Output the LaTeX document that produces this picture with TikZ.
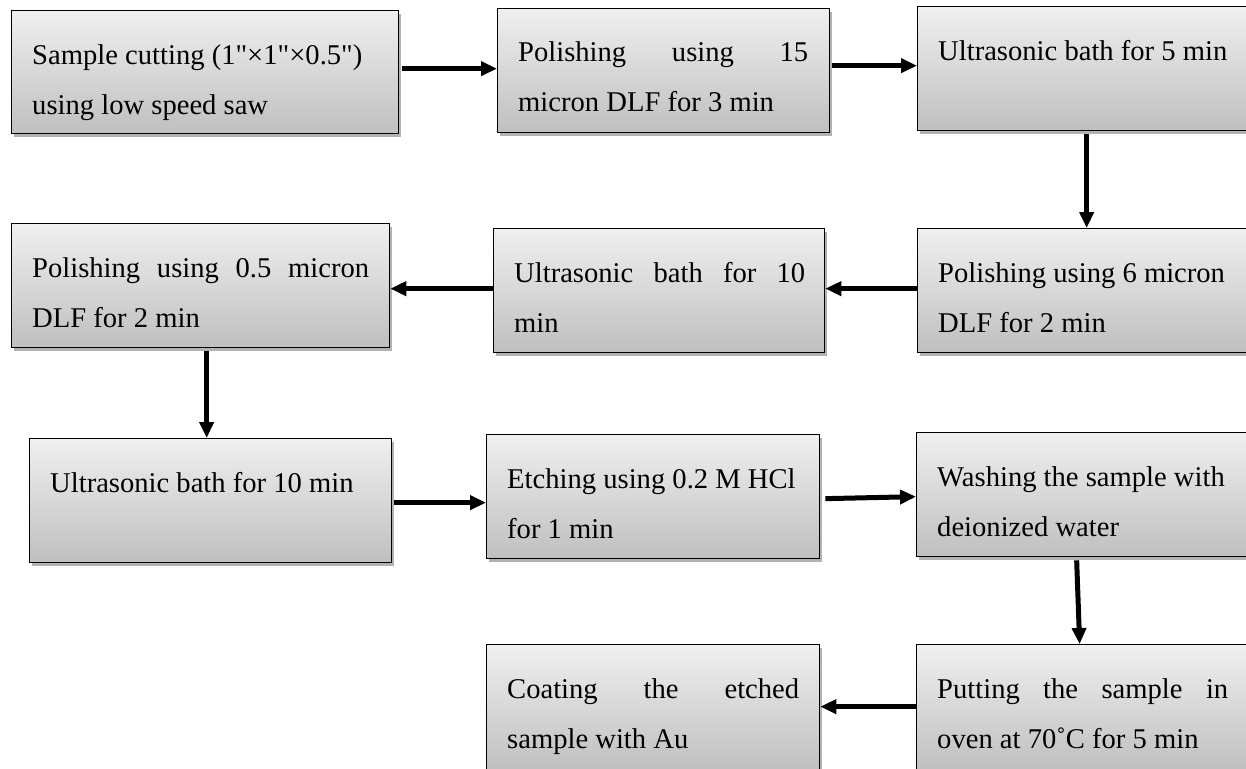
\documentclass[tikz,border=0pt]{standalone}
\usepackage{fontspec}
\setmainfont{Liberation Serif}[Ligatures=TeXOff]
\usetikzlibrary{arrows.meta,shadows,calc}
\newcommand\twoln[2]{\vtop{\baselineskip=50pt\hbox{#1}\hbox{#2}}}
\begin{document}
\begin{tikzpicture}[x=1pt,y=-1pt,
 box/.style={draw=black,line width=1.3pt,top color=gray!12,bottom color=gray!50,
   drop shadow={shadow xshift=2.5pt,shadow yshift=-3pt,opacity=0.3,fill=black},
   anchor=north west,inner sep=0,minimum height=124pt},
 txt/.style={anchor=base west,inner sep=0,font=\fontsize{28.6}{50}\selectfont},
 arr/.style={line width=5pt,-{Triangle[length=16pt,width=14pt]}}]
\clip (0,0) rectangle (1246,768);
\fill[white] (0,0) rectangle (1246,768);
% boxes
\node[box,minimum width=387pt,minimum height=123pt] (b1) at (11,10) {};
\node[box,minimum width=332pt] (b2) at (497,8) {};
\node[box,minimum width=340pt] (b3) at (917,6) {};
\node[box,minimum width=340pt] (b4) at (917,228) {};
\node[box,minimum width=331pt] (b5) at (493,228) {};
\node[box,minimum width=378pt] (b6) at (11,223) {};
\node[box,minimum width=362pt] (b7) at (29,438) {};
\node[box,minimum width=333pt] (b8) at (486,434) {};
\node[box,minimum width=340pt] (b9) at (916,432) {};
\node[box,minimum width=340pt,minimum height=126pt] (b10) at (916,644) {};
\node[box,minimum width=333pt,minimum height=126pt] (b11) at (486,644) {};
% texts
\node[txt] (t1) at ($(b1.north west)+(21,54)$) {\twoln{Sample cutting (1"×1"×0.5")}{using low speed saw}};
\node[txt] (t2) at ($(b2.north west)+(21,54)$) {\twoln{\hbox to 290pt{Polishing\hfill using\hfill 15}}{micron DLF for 3 min}};
\node[txt] (t3) at ($(b3.north west)+(21,54)$) {Ultrasonic bath for 5 min};
\node[txt] (t4) at ($(b4.north west)+(21,54)$) {\twoln{Polishing using 6 micron}{DLF for 2 min}};
\node[txt] (t5) at ($(b5.north west)+(21,54)$) {\twoln{\hbox to 291pt{Ultrasonic\hfill bath\hfill for\hfill 10}}{min}};
\node[txt] (t6) at ($(b6.north west)+(21,54)$) {\twoln{\hbox to 337pt{Polishing\hfill using\hfill 0.5\hfill micron}}{DLF for 2 min}};
\node[txt] (t7) at ($(b7.north west)+(21,54)$) {Ultrasonic bath for 10 min};
\node[txt] (t8) at ($(b8.north west)+(21,54)$) {\twoln{Etching using 0.2 M HCl}{for 1 min}};
\node[txt] (t9) at ($(b9.north west)+(21,54)$) {\twoln{Washing the sample with}{deionized water}};
\node[txt] (t10) at ($(b10.north west)+(21,54)$) {\twoln{\hbox to 291pt{Putting\hfill the\hfill sample\hfill in}}{oven at 70˚C for 5 min}};
\node[txt] (t11) at ($(b11.north west)+(21,54)$) {\twoln{\hbox to 292pt{Coating\hfill the\hfill etched}}{sample with Au}};
% arrows
\draw[arr] ([xshift=3pt,yshift=3.5pt]b1.east) coordinate (s1) -- (s1 -| b2.west);
\draw[arr] ([xshift=2pt,yshift=5pt]b2.east) coordinate (s2) -- (s2 -| b3.west);
\draw[arr] ([xshift=-1pt,yshift=-3pt]b3.south) coordinate (s3) -- (s3 |- b4.north);
\draw[arr] ([yshift=2pt]b4.west) coordinate (s4) -- (s4 -| b5.east);
\draw[arr] ([yshift=2pt]b5.west) coordinate (s5) -- (s5 -| b6.east);
\draw[arr] ([xshift=6pt,yshift=-3pt]b6.south) coordinate (s6) -- (s6 |- b7.north);
\draw[arr] ([xshift=2pt,yshift=-2pt]b7.east) coordinate (s7) -- (s7 -| b8.west);
\draw[arr] ([xshift=5pt,yshift=-2pt]b8.east) -- ([yshift=-2pt]b9.west);
\draw[arr] ([xshift=-10pt,yshift=-3pt]b9.south) -- ([xshift=-7pt]b10.north);
\draw[arr] ([yshift=1pt]b10.west) coordinate (s10) -- (s10 -| b11.east);
\end{tikzpicture}
\end{document}
